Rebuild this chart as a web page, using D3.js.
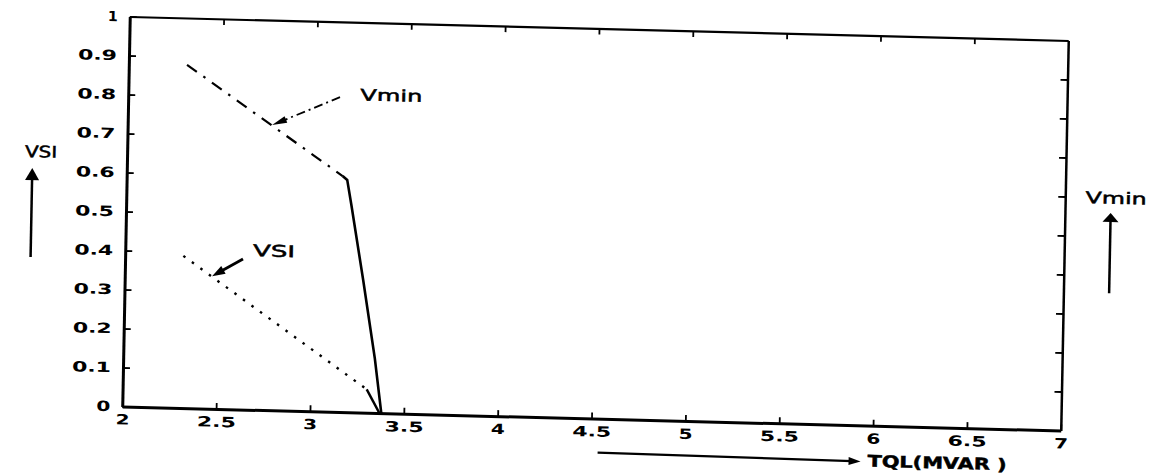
<!DOCTYPE html>
<html>
<head>
<meta charset="utf-8">
<script src="https://cdn.jsdelivr.net/npm/d3@7"></script>
<style>
  html, body { margin: 0; padding: 0; background: #fff; }
  svg { display: block; }
  .tick text { font-family: "DejaVu Sans", sans-serif; font-weight: bold; font-size: 14px; fill: #000; }
  .note { font-family: "DejaVu Sans", sans-serif; font-size: 16px; fill: #000; stroke: #000; stroke-width: 0.5px; }
</style>
</head>
<body>
<svg id="chart" width="1151" height="473"></svg>
<script>
// Axis ticks and labels
const xTicks = [2, 2.5, 3, 3.5, 4, 4.5, 5, 5.5, 6, 6.5, 7];
const xTickLabels = ["2", "2.5", "3", "3.5", "4", "4.5", "5", "5.5", "6", "6.5", "7"];
const yTicks = [0, 0.1, 0.2, 0.3, 0.4, 0.5, 0.6, 0.7, 0.8, 0.9, 1];
const yTickLabels = ["0", "0.1", "0.2", "0.3", "0.4", "0.5", "0.6", "0.7", "0.8", "0.9", "1"];

// Vmin against total reactive load (dash-dot trend, then collapse)
const vminTQL = [2.31, 3.15];
const vminVal = [0.88, 0.605];
const vminCollapseTQL = [3.15, 3.175, 3.20, 3.27, 3.34, 3.38];
const vminCollapseVal = [0.605, 0.595, 0.53, 0.34, 0.14, 0];

// Voltage stability index against total reactive load
const vsiTQL = [2.31, 3.30];
const vsiVal = [0.39, 0.06];
const vsiCollapseTQL = [3.30, 3.37];
const vsiCollapseVal = [0.06, 0];

const W = 938.5, H = 390;
const x = d3.scaleLinear().domain([2, 7]).range([0, W]);
const y = d3.scaleLinear().domain([0, 1]).range([H, 0]);

const svg = d3.select("#chart");
// plot sheet is slightly skewed on the page
const g = svg.append("g")
  .attr("transform", "matrix(1,0.02557,-0.01923,1,129.75,16.5)");

// wide, heavy tick numerals
function labelWidth(s) {
  if (s === "1") return 10;
  return s.length === 1 ? 14 : 39;
}

function styleAxis(sel, domainW) {
  sel.select(".domain").attr("stroke", "#000").attr("stroke-width", domainW);
  sel.selectAll(".tick line").attr("stroke", "#000").attr("stroke-width", 1.8);
  sel.selectAll(".tick text")
    .attr("textLength", function () { return labelWidth(this.textContent); })
    .attr("lengthAdjust", "spacingAndGlyphs");
}

// left axis with labels, ticks pointing inward
g.append("g")
  .call(d3.axisLeft(y).tickValues(yTicks).tickFormat((d, i) => yTickLabels[i])
    .tickSize(-7).tickSizeOuter(0).tickPadding(12))
  .call(s => styleAxis(s, 3));

// bottom axis with labels
g.append("g").attr("transform", `translate(0,${H})`)
  .call(d3.axisBottom(x).tickValues(xTicks).tickFormat((d, i) => xTickLabels[i])
    .tickSize(-6).tickSizeOuter(0).tickPadding(8))
  .call(s => styleAxis(s, 3));

// top and right frame with inward ticks
g.append("g")
  .call(d3.axisTop(x).tickValues(xTicks.slice(1, -1)).tickFormat("").tickSize(-6).tickSizeOuter(0))
  .call(s => styleAxis(s, 2.2));
g.append("g").attr("transform", `translate(${W},0)`)
  .call(d3.axisRight(y).tickValues(yTicks.slice(1, -1)).tickFormat("").tickSize(-7).tickSizeOuter(0))
  .call(s => styleAxis(s, 2.5));

const line = d3.line().x(d => x(d[0])).y(d => y(d[1]));

// Vmin trend (dash-dot)
g.append("path").datum(d3.zip(vminTQL, vminVal)).attr("d", line)
  .attr("fill", "none").attr("stroke", "#000").attr("stroke-width", 2.2)
  .attr("stroke-dasharray", "12,8,2.5,8");
// VSI trend (dotted)
g.append("path").datum(d3.zip(vsiTQL, vsiVal)).attr("d", line)
  .attr("fill", "none").attr("stroke", "#000").attr("stroke-width", 2.4)
  .attr("stroke-dasharray", "2.5,8");
// collapse segments (solid)
g.append("path").datum(d3.zip(vminCollapseTQL, vminCollapseVal)).attr("d", line)
  .attr("fill", "none").attr("stroke", "#000").attr("stroke-width", 2.6)
  .attr("stroke-linejoin", "round");
g.append("path").datum(d3.zip(vsiCollapseTQL, vsiCollapseVal)).attr("d", line)
  .attr("fill", "none").attr("stroke", "#000").attr("stroke-width", 2.4);

// arrow from (x0,y0) to tip (x1,y1) in plot pixels
function arrow(x0, y0, x1, y1, o) {
  const ang = Math.atan2(y1 - y0, x1 - x0);
  const bx = x1 - o.len * Math.cos(ang), by = y1 - o.len * Math.sin(ang);
  const nx = -Math.sin(ang) * o.half, ny = Math.cos(ang) * o.half;
  g.append("line").attr("x1", x0).attr("y1", y0).attr("x2", bx + o.len * 0.3 * Math.cos(ang)).attr("y2", by + o.len * 0.3 * Math.sin(ang))
    .attr("stroke", "#000").attr("stroke-width", o.w)
    .attr("stroke-dasharray", o.dash || null);
  g.append("path")
    .attr("d", `M${x1},${y1}L${bx + nx},${by + ny}L${bx - nx},${by - ny}Z`)
    .attr("fill", "#000");
}

function label(txt, lx, ly, width, bold) {
  g.append("text").attr("class", "note").attr("x", lx).attr("y", ly)
    .attr("font-weight", bold ? "bold" : null)
    .attr("textLength", width).attr("lengthAdjust", "spacingAndGlyphs").text(txt);
}

// curve annotations
arrow(x(3.128), y(0.807), x(2.769), y(0.731), { len: 15, half: 3.5, w: 1.8, dash: "9,4,2,4" });
label("Vmin", x(3.236), y(0.80), 62);
arrow(x(2.628), y(0.386), x(2.465), y(0.340), { len: 13, half: 4.5, w: 2.8 });
label("VSI", x(2.681), y(0.394), 42);

// left axis title with upward arrow
label("VSI", -102, 143, 32);
arrow(-94.5, 243, -94.5, 154, { len: 12, half: 7, w: 2.5 });

// right axis title with upward arrow
label("Vmin", 959, 162, 61);
arrow(984.2, 251.5, 984.2, 171.4, { len: 9, half: 8, w: 2.5 });

// bottom axis title with arrow
arrow(476, 424, 739, 426, { len: 12, half: 4, w: 2.2 });
label("TQL(MVAR )", 746, 431, 139, true);
</script>
</body>
</html>
